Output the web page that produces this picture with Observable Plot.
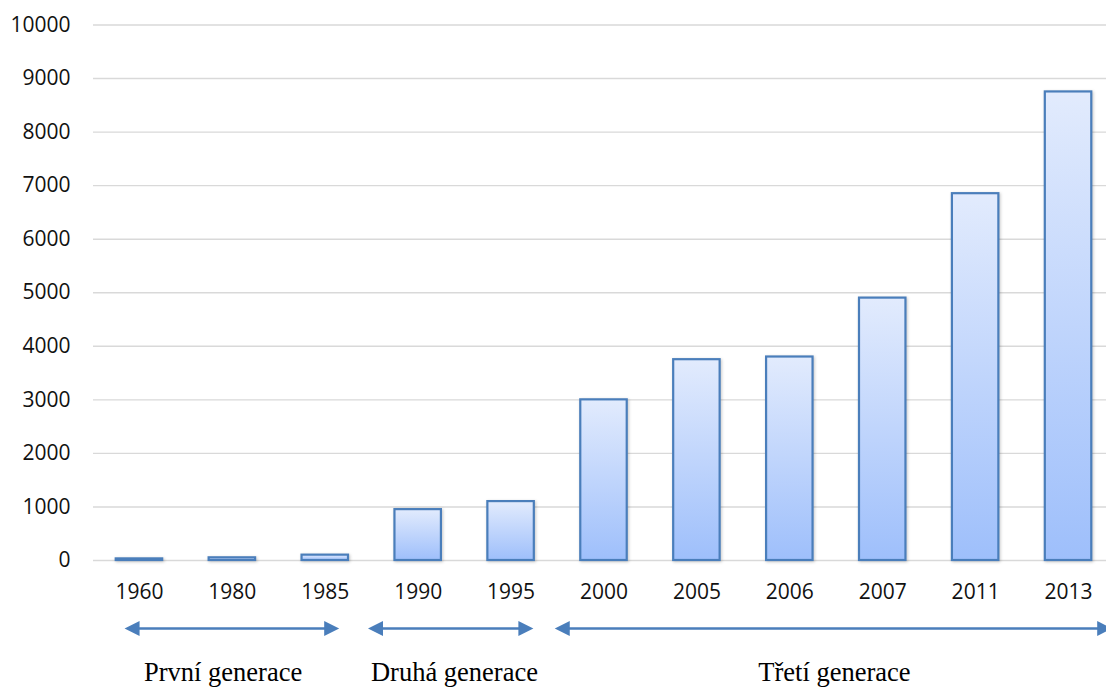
<!DOCTYPE html>
<html>
<head>
<meta charset="utf-8">
<script src="https://cdn.jsdelivr.net/npm/d3@7"></script>
<script src="https://cdn.jsdelivr.net/npm/@observablehq/plot@0.6"></script>
<style>
  html, body { margin: 0; padding: 0; background: #fff; }
  #chart svg { display: block; }
</style>
</head>
<body>
<div id="chart"></div>
<script>
// ---- data ----
const years = ["1960", "1980", "1985", "1990", "1995", "2000", "2005", "2006", "2007", "2011", "2013"];
const counts = [30, 50, 100, 950, 1100, 3000, 3750, 3800, 4900, 6850, 8750];
const yTicks = [0, 1000, 2000, 3000, 4000, 5000, 6000, 7000, 8000, 9000, 10000];
// generation spans, in category-index units (0 = first year's band centre)
const genLabels = ["První generace", "Druhá generace", "Třetí generace"];
const genStart = [-0.16, 2.46, 4.47];
const genEnd = [2.15, 4.24, 10.47];
const genLabelAt = [0.9, 3.39, 7.48];

const bars = years.map((y, i) => ({year: y, value: counts[i]}));
const gens = genLabels.map((g, i) => ({label: g, from: genStart[i], to: genEnd[i], at: genLabelAt[i]}));

const W = 1106;
const xRange = [92.5, 1114.5];
const blue = "#4a7ebb";

function defsMark() {
  const ns = "http://www.w3.org/2000/svg";
  const defs = document.createElementNS(ns, "defs");
  const lg = document.createElementNS(ns, "linearGradient");
  lg.setAttribute("id", "barGrad");
  lg.setAttribute("x1", "0"); lg.setAttribute("y1", "0");
  lg.setAttribute("x2", "0"); lg.setAttribute("y2", "1");
  [["0%", "#e2ebfd"], ["100%", "#9ebffb"]].forEach(([o, c]) => {
    const s = document.createElementNS(ns, "stop");
    s.setAttribute("offset", o);
    s.setAttribute("stop-color", c);
    lg.appendChild(s);
  });
  defs.appendChild(lg);
  return defs;
}

const chart = Plot.plot({
  width: W,
  height: 610,
  marginTop: 24,
  marginBottom: 50,
  marginLeft: 93,
  marginRight: 0,
  style: {fontFamily: "'Open Sans', sans-serif", fontSize: "21px", color: "#111", background: "#fff"},
  x: {domain: years, range: xRange, paddingInner: 0.5, paddingOuter: 0.25, round: false, tickSize: 0, tickPadding: 24, label: null},
  y: {domain: [0, 10000], range: [560, 24.5], ticks: yTicks, tickFormat: "d", tickSize: 0, tickPadding: 23, label: null},
  marks: [
    defsMark,
    Plot.ruleY(yTicks, {stroke: "#d9d9d9", strokeWidth: 1.4}),
    Plot.barY(bars, {x: "year", y: "value", fill: "url(#barGrad)", stroke: blue, strokeWidth: 2.2})
  ]
});
chart.querySelectorAll('g[aria-label="bar"]').forEach(g => {
  g.style.filter = "drop-shadow(1px 1px 1.5px rgba(0,0,0,0.22))";
});

const step = (xRange[1] - xRange[0]) / years.length;
const inset = 10 / step;
const headLeft = {draw(ctx, size) { const r = Math.sqrt(size / Math.PI); ctx.moveTo(0, 0); ctx.lineTo(2 * r, -r); ctx.lineTo(2 * r, r); ctx.closePath(); }};
const headRight = {draw(ctx, size) { const r = Math.sqrt(size / Math.PI); ctx.moveTo(0, 0); ctx.lineTo(-2 * r, -r); ctx.lineTo(-2 * r, r); ctx.closePath(); }};

const gensPlot = Plot.plot({
  width: W,
  height: 78,
  margin: 0,
  style: {fontFamily: "'Liberation Serif', 'Times New Roman', serif", fontSize: "26.5px", color: "#000", background: "#fff"},
  x: {type: "linear", domain: [-0.5, years.length - 0.5], range: xRange, axis: null},
  y: {type: "point", domain: ["arrow", "label"], range: [18, 62.5], padding: 0, axis: null},
  marks: [
    Plot.ruleY(gens, {y: () => "arrow", x1: d => d.from + inset, x2: d => d.to - inset, stroke: blue, strokeWidth: 2.6}),
    Plot.dot(gens, {x: "from", y: () => "arrow", symbol: headLeft, r: 7.5, fill: blue, stroke: "none"}),
    Plot.dot(gens, {x: "to", y: () => "arrow", symbol: headRight, r: 7.5, fill: blue, stroke: "none"}),
    Plot.text(gens, {x: "at", y: () => "label", text: "label", fill: "#000", fontSize: 26.5})
  ]
});

const root = document.getElementById("chart");
root.appendChild(chart);
root.appendChild(gensPlot);
</script>
</body>
</html>
